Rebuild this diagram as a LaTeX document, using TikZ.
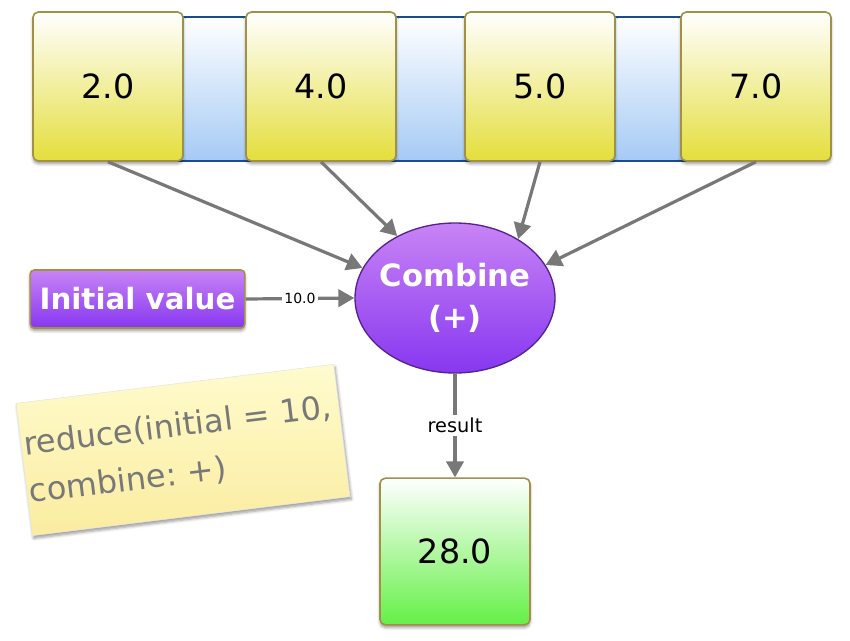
\documentclass[tikz,border=0pt]{standalone}
\usepackage{fontspec}
\setmainfont{DejaVu Sans}
\usepackage{tikz}
\usetikzlibrary{shapes,arrows.meta,positioning,calc,shadows.blur}

\definecolor{boxline}{RGB}{160,145,70}
\definecolor{yellowbot}{RGB}{228,222,60}
\definecolor{bluebot}{RGB}{165,202,245}
\definecolor{bandline}{RGB}{30,75,140}
\definecolor{purptop}{RGB}{200,132,245}
\definecolor{purpbot}{RGB}{135,55,240}
\definecolor{purpline}{RGB}{85,35,140}
\definecolor{greenbot}{RGB}{100,240,70}
\definecolor{arrowgray}{RGB}{120,120,120}
\definecolor{notetop}{RGB}{255,251,205}
\definecolor{notebot}{RGB}{250,236,160}
\definecolor{notetext}{RGB}{120,120,120}

\tikzset{
  valbox/.style={draw=boxline, line width=1.2pt, rounded corners=4pt,
    top color=white, bottom color=yellowbot,
    minimum width=112.5pt, minimum height=111.75pt,
    font=\fontsize{25}{30}\selectfont,
    blur shadow={shadow xshift=0pt, shadow yshift=-2pt, shadow blur steps=4}},
  resbox/.style={valbox, bottom color=greenbot, minimum height=110pt},
  flow/.style={draw=arrowgray, line width=2.4pt,
    -{Triangle[length=12pt,width=13pt]}},
  flowlabel/.style={fill=white, inner sep=2pt, text=black}
}

\begin{document}
\frenchspacing
\begin{tikzpicture}[x=0.75pt, y=-0.75pt]
  \useasboundingbox (0,0) rectangle (850,640);

  % band behind the values
  \shade[top color=white, bottom color=bluebot] (108,17) rectangle (756,161);
  \draw[bandline, line width=1.5pt] (108,17) -- (756,17);
  \draw[bandline, line width=1.5pt] (108,161) -- (756,161);

  % the values
  \node[valbox] (v2) at (108,86.5) {2.0};
  \node[valbox] (v4) at (321,86.5) {4.0};
  \node[valbox] (v5) at (540,86.5) {5.0};
  \node[valbox] (v7) at (756,86.5) {7.0};

  % combine step
  \node[ellipse, draw=purpline, line width=1pt, top color=purptop, bottom color=purpbot,
        inner xsep=-12pt, inner ysep=0pt,
        minimum width=150pt, minimum height=112.5pt, text=white, align=center,
        font=\bfseries\fontsize{23}{31}\selectfont] (combine) at (455,298) {Combine\\(+)};

  \node[draw=boxline, line width=1.2pt, rounded corners=3pt, top color=purptop, bottom color=purpbot,
        minimum width=161pt, minimum height=43.5pt, text=white,
        font=\bfseries\fontsize{22}{26}\selectfont,
        blur shadow={shadow xshift=0pt, shadow yshift=-2pt, shadow blur steps=4}] (init) at (137.5,299) {Initial value};

  \node[resbox] (res) at (455,551.5) {28.0};

  % sticky note
  \node[rotate=7, top color=notetop, bottom color=notebot, draw=black!10,
        minimum width=239pt, minimum height=100pt, text width=236pt, inner xsep=2pt, align=left,
        text=notetext, font=\fontsize{24}{36}\selectfont,
        blur shadow={shadow xshift=1pt, shadow yshift=-2pt, shadow blur steps=5}] (note) at (183,450)
        {reduce(initial = 10,\\combine: +)};

  % connectors
  \draw[flow] (v2.south) -- (combine.162);
  \draw[flow] (v4.south) -- (combine.133);
  \draw[flow] (v5.south) -- (combine.43);
  \draw[flow] (v7.south) -- (combine.20);
  \draw[flow] (init.east) -- node[flowlabel, font=\fontsize{10.5}{12}\selectfont] {10.0} (combine.west);
  \draw[flow] (combine.south) -- node[flowlabel, font=\fontsize{14.5}{16}\selectfont] {result} (res.north);
\end{tikzpicture}
\end{document}
